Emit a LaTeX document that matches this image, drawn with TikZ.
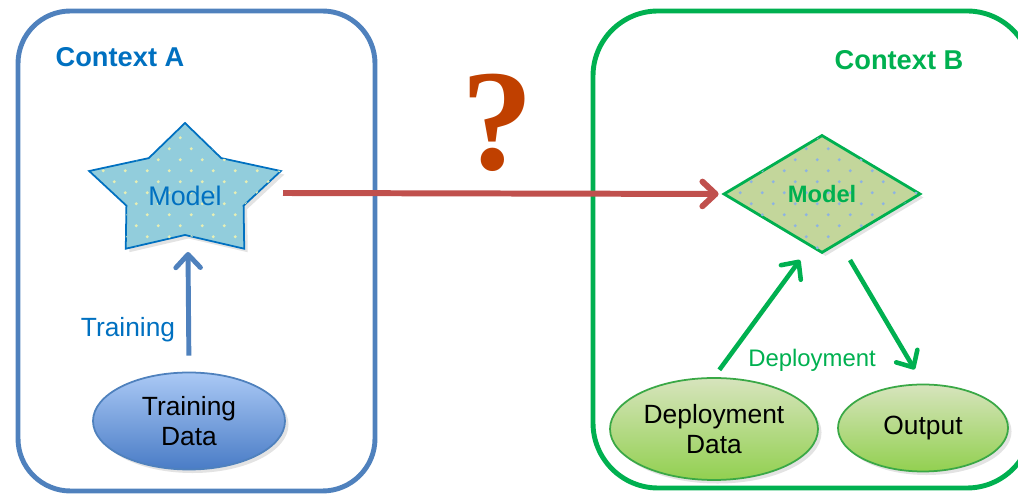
\documentclass[tikz,border=0pt]{standalone}
\usepackage{fontspec}
\setmainfont{Liberation Sans}
\newfontfamily\qmfont{Liberation Serif}
\usetikzlibrary{shapes.geometric,arrows.meta,patterns.meta,shadows}

\definecolor{ctxblue}{HTML}{4F81BD}
\definecolor{txtblue}{HTML}{0070C0}
\definecolor{ctxgreen}{HTML}{00B050}
\definecolor{starfill}{HTML}{92CDDC}
\definecolor{stardot}{HTML}{E6EEB4}
\definecolor{diafill}{HTML}{C3D69B}
\definecolor{diadot}{HTML}{8DB3E2}
\definecolor{qmark}{HTML}{C04000}
\definecolor{redarrow}{HTML}{C0504D}
\definecolor{bluetop}{HTML}{AAC9F5}
\definecolor{bluebot}{HTML}{4A7CC6}
\definecolor{greentop}{HTML}{D7E4BD}
\definecolor{greenbot}{HTML}{92D050}

\tikzdeclarepattern{
  name=sparsedots,
  type=uncolored,
  bounding box={(0pt,0pt) and (12.5pt,12.5pt)},
  tile size={(12.5pt,12.5pt)},
  code={
    \fill (3pt,3pt) circle (0.95pt);
    \fill (9.25pt,9.25pt) circle (0.95pt);
  }
}

\begin{document}
\begin{tikzpicture}[
    ctxbox/.style={line width=2.8pt},
    shade/.style={drop shadow={shadow xshift=2pt, shadow yshift=-2pt, fill=black!22}},
    blob/.style={ellipse, draw, line width=1pt, inner sep=0pt, align=center,
      font=\fontsize{15}{17}\selectfont, shade},
    flow/.style={line width=2.8pt, -{Straight Barb[length=7.5pt,width=14pt,round]}},
  ]
    \useasboundingbox (0,0) rectangle (20.36,9.88);
    \clip (0,0) rectangle (20.36,9.88);

    % Context boxes
    \draw[ctxbox, draw=ctxblue, rounded corners=1.05cm] (0.36,0.06) rectangle (7.50,9.66);
    \draw[ctxbox, draw=ctxgreen, rounded corners=1.3cm] (11.86,0.12) rectangle (20.64,9.66);
    \node[text=txtblue, font=\bfseries\fontsize{15.5}{18}\selectfont] (ctxA) at (2.40,8.74) {Context A};
    \node[text=ctxgreen, font=\bfseries\fontsize{15.5}{18}\selectfont] (ctxB) at (17.98,8.68) {Context B};

    % Model in context A - star
    \begin{scope}[shift={(3.70,6.03)}, xscale=1.45]
      \draw[draw=txtblue, line width=1pt, fill=starfill, shade,
        postaction={pattern=sparsedots, pattern color=stardot}]
        (90:1.39) -- (126:0.85) -- (162:1.39) -- (198:0.85) -- (234:1.39)
        -- (270:0.85) -- (306:1.39) -- (342:0.85) -- (18:1.39) -- (54:0.85) -- cycle;
    \end{scope}
    \node[text=txtblue, font=\fontsize{15.3}{18}\selectfont] (modelA) at (3.70,5.96) {Model};
    \coordinate (starE) at (5.66,6.02);
    \coordinate (starS) at (3.76,4.84);

    % Model in context B - diamond
    \node[diamond, draw=ctxgreen, line width=1.6pt, fill=diafill, inner sep=0pt,
      minimum width=3.94cm, minimum height=2.36cm, shade,
      postaction={pattern=sparsedots, pattern color=diadot},
      text=ctxgreen, font=\bfseries\fontsize{13.5}{16}\selectfont] (modelB) at (16.44,6.00) {Model};
    \coordinate (inB) at (16.00,4.68);
    \coordinate (outB) at (17.00,4.68);

    % Data
    \node[blob, draw=ctxblue, top color=bluetop, bottom color=bluebot,
      minimum width=3.84cm, minimum height=1.94cm] (trainData) at (3.78,1.46) {Training\\Data};
    \node[blob, draw=ctxgreen!80!black!60!greenbot, top color=greentop, bottom color=greenbot,
      minimum width=4.16cm, minimum height=2.04cm] (depData) at (14.28,1.30) {Deployment\\Data};
    \node[blob, draw=ctxgreen!80!black!60!greenbot, top color=greentop, bottom color=greenbot,
      minimum width=3.40cm, minimum height=1.74cm] (depOut) at (18.46,1.32) {Output};

    % Arrows
    \draw[flow, draw=ctxblue, shorten <=0.32cm] (trainData.north) -- (starS);
    \draw[flow, draw=redarrow, line width=3.4pt, shorten >=2pt] (starE) -- (modelB.west);
    \draw[flow, draw=ctxgreen, line width=2.6pt, shorten <=0.18cm] (depData.north) -- (inB);
    \draw[flow, draw=ctxgreen, line width=2.6pt, shorten >=0.33cm] (outB) -- (depOut.north);

    % Labels
    \node[text=txtblue, font=\fontsize{15}{18}\selectfont] (trainLbl) at (2.56,3.28) {Training};
    \node[text=ctxgreen, font=\fontsize{13.6}{16}\selectfont] (depLbl) at (16.24,2.68) {Deployment};
    \node[text=qmark, font=\qmfont\bfseries\fontsize{82}{82}\selectfont] (qm) at (9.96,7.42) {?};
\end{tikzpicture}
\end{document}
